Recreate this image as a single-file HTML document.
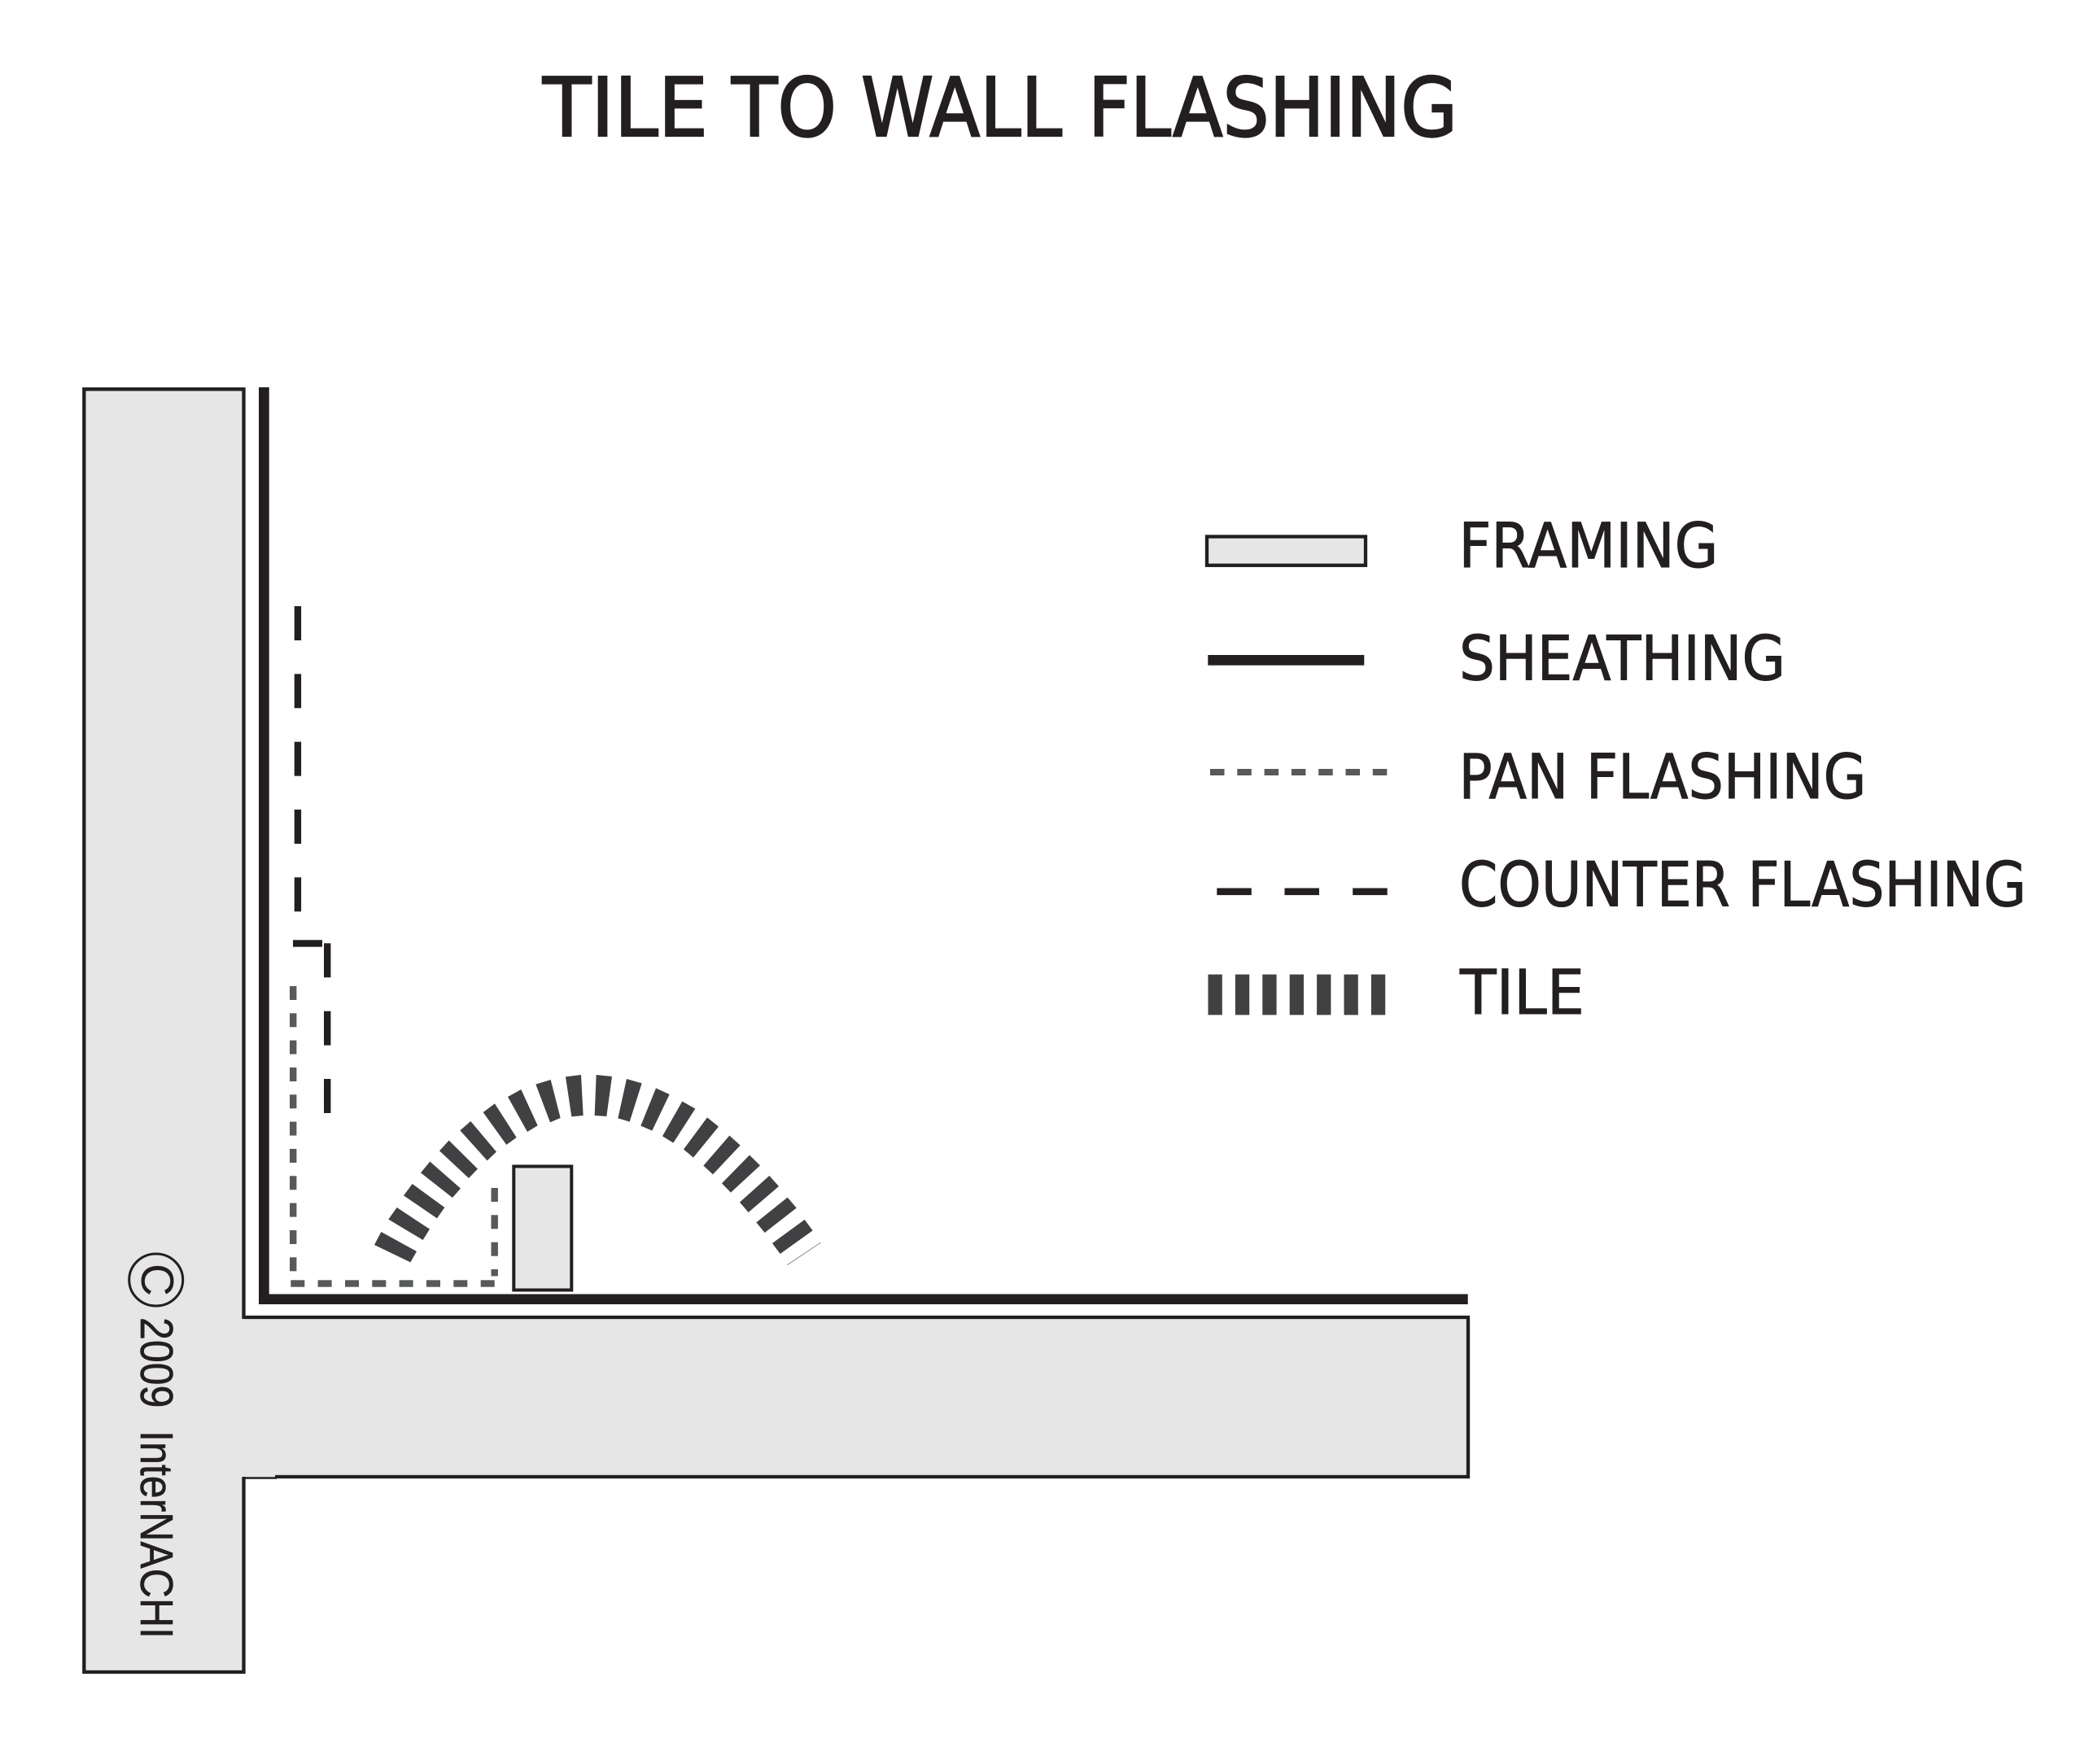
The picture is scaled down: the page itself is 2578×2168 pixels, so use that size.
<!DOCTYPE html>
<html>
<head>
<meta charset="utf-8">
<title>Tile to Wall Flashing</title>
<style>
html,body{margin:0;padding:0;background:#fff;width:2578px;height:2168px;overflow:hidden}
svg{display:block}
text{font-family:"DejaVu Sans",sans-serif;fill:#231f20}
.t{stroke:#231f20;stroke-width:2.2px}
.l{stroke:#231f20;stroke-width:1px}
</style>
</head>
<body>
<svg xmlns="http://www.w3.org/2000/svg" width="2578" height="2168" viewBox="0 0 2578 2168">
<rect width="2578" height="2168" fill="#fff"/>

<text class="t" x="667" y="167" font-size="100" textLength="203" lengthAdjust="spacingAndGlyphs">TILE</text>
<text class="t" x="899" y="167" font-size="100" textLength="129" lengthAdjust="spacingAndGlyphs">TO</text>
<text class="t" x="1058" y="167" font-size="100" textLength="247" lengthAdjust="spacingAndGlyphs">WALL</text>
<text class="t" x="1337" y="167" font-size="100" textLength="454" lengthAdjust="spacingAndGlyphs">FLASHING</text>

<!-- framing -->
<path d="M103.3 478.3H299.5V1619H1804V1815H299.5V2055H103.3Z" fill="#e6e6e6"/>
<path d="M299.5 1621V1619H1804V1815H338M299.5 1815V2055H103.3V478.3H299.5V1621" fill="none" stroke="#231f20" stroke-width="4.3"/>
<path d="M298 1816.5H340" fill="none" stroke="#231f20" stroke-width="2.4"/>

<!-- sheathing -->
<path d="M318 476H330.7V1590.5H1803.7V1603H318Z" fill="#231f20"/>

<!-- pan flashing horizontal -->
<g fill="#58595b">
<rect x="357.3" y="1573.3" width="17" height="8.4"/>
<rect x="390.6" y="1573.3" width="17" height="8.4"/>
<rect x="424" y="1573.3" width="17" height="8.4"/>
<rect x="457.3" y="1573.3" width="17" height="8.4"/>
<rect x="490.6" y="1573.3" width="17" height="8.4"/>
<rect x="524" y="1573.3" width="17" height="8.4"/>
<rect x="557.3" y="1573.3" width="17" height="8.4"/>
<rect x="590.7" y="1573.3" width="17" height="8.4"/>
<!-- left vertical -->
<rect x="356" y="1212" width="8.4" height="17"/>
<rect x="356" y="1245.3" width="8.4" height="17"/>
<rect x="356" y="1278.6" width="8.4" height="17"/>
<rect x="356" y="1312" width="8.4" height="17"/>
<rect x="356" y="1345.3" width="8.4" height="17"/>
<rect x="356" y="1378.6" width="8.4" height="17"/>
<rect x="356" y="1412" width="8.4" height="17"/>
<rect x="356" y="1445.3" width="8.4" height="17"/>
<rect x="356" y="1478.6" width="8.4" height="17"/>
<rect x="356" y="1512" width="8.4" height="17"/>
<rect x="356" y="1545.3" width="8.4" height="17"/>
<!-- right vertical -->
<rect x="603.5" y="1460" width="8.4" height="17"/>
<rect x="603.5" y="1493.3" width="8.4" height="17"/>
<rect x="603.5" y="1526.7" width="8.4" height="17"/>
<rect x="603.5" y="1560" width="8.4" height="8.4"/>
</g>

<!-- counter flashing -->
<g fill="#231f20">
<rect x="361.7" y="745" width="8.4" height="42"/>
<rect x="361.7" y="828.3" width="8.4" height="42"/>
<rect x="361.7" y="911.7" width="8.4" height="42"/>
<rect x="361.7" y="995" width="8.4" height="42"/>
<rect x="361.7" y="1078.3" width="8.4" height="42"/>
<rect x="360" y="1155.3" width="36" height="8.4"/>
<rect x="398" y="1159.3" width="8.4" height="42"/>
<rect x="398" y="1242.7" width="8.4" height="42"/>
<rect x="398" y="1326" width="8.4" height="42"/>
</g>

<!-- center framing block -->
<rect x="631.3" y="1433.5" width="71" height="152" fill="#e6e6e6" stroke="#231f20" stroke-width="4"/>

<!-- tiles -->
<g fill="#414042" transform="translate(450 1310) scale(.33333)">
<polygon points="30,660 55,612 186,684 163,724"/>
<polygon points="82,566 113,522 234,602 209,642"/>
<polygon points="138,478 170,435 289,522 261,562"/>
<polygon points="201,394 235,353 348,452 318,486"/>
<polygon points="270,313 305,275 411,380 378,414"/>
<polygon points="346,238 385,204 480,317 446,349"/>
<polygon points="431,171 474,139 554,264 517,291"/>
<polygon points="522,114 571,87 632,220 594,243"/>
<polygon points="625,68 680,51 716,192 678,208"/>
<polygon points="735,40 792,33 800,183 757,187"/>
</g>
<g fill="#414042" transform="translate(730 1310) scale(.33333)">
<polygon points="8,33 66,39 46,186 2,183"/>
<polygon points="120,48 176,64 131,206 88,193"/>
<polygon points="228,82 278,105 214,239 172,221"/>
<polygon points="325,131 373,158 292,284 252,259"/>
<polygon points="417,190 459,224 366,338 330,308"/>
<polygon points="499,257 539,293 438,400 403,368"/>
<polygon points="573,329 612,367 504,467 471,433"/>
<polygon points="646,405 681,444 569,540 537,503"/>
<polygon points="713,485 746,524 629,615 598,577"/>
<polygon points="776,567 806,607 686,693 657,654"/>
<line x1="712" y1="734" x2="836" y2="651" stroke="#8a8a8a" stroke-width="3"/>
</g>

<!-- copyright -->
<ellipse cx="191.7" cy="1573" rx="33" ry="32" fill="none" stroke="#231f20" stroke-width="3"/>
<text transform="translate(174 1553) rotate(90)" style="font-family:'Liberation Sans',sans-serif" font-size="57" textLength="40" lengthAdjust="spacingAndGlyphs">C</text>
<text transform="translate(173 1619) rotate(90)" style="font-family:'Liberation Sans',sans-serif;white-space:pre;stroke:#231f20;stroke-width:.6px" font-size="57" textLength="395" lengthAdjust="spacingAndGlyphs" xml:space="preserve">2009  InterNACHI</text>

<!-- legend -->
<rect x="1483" y="659.5" width="195" height="35.3" fill="#e6e6e6" stroke="#231f20" stroke-width="4.3"/>
<rect x="1484.3" y="805" width="192" height="12.7" fill="#231f20"/>
<g fill="#58595b">
<rect x="1487" y="945" width="17.5" height="8"/>
<rect x="1520.3" y="945" width="17.5" height="8"/>
<rect x="1553.6" y="945" width="17.5" height="8"/>
<rect x="1586.9" y="945" width="17.5" height="8"/>
<rect x="1620.2" y="945" width="17.5" height="8"/>
<rect x="1653.5" y="945" width="17.5" height="8"/>
<rect x="1686.8" y="945" width="17.5" height="8"/>
</g>
<g fill="#231f20">
<rect x="1495.3" y="1091.5" width="42.5" height="8.6"/>
<rect x="1578.5" y="1091.5" width="42.5" height="8.6"/>
<rect x="1662.2" y="1091.5" width="42.5" height="8.6"/>
</g>
<g fill="#414042">
<rect x="1484.5" y="1197.6" width="17.3" height="49.8"/>
<rect x="1517.9" y="1197.6" width="17.3" height="49.8"/>
<rect x="1551.3" y="1197.6" width="17.3" height="49.8"/>
<rect x="1584.7" y="1197.6" width="17.3" height="49.8"/>
<rect x="1618.1" y="1197.6" width="17.3" height="49.8"/>
<rect x="1651.5" y="1197.6" width="17.3" height="49.8"/>
<rect x="1684.9" y="1197.6" width="17.3" height="49.8"/>
</g>
<text class="l" x="1792.5" y="697" font-size="75.5" textLength="319" lengthAdjust="spacingAndGlyphs">FRAMING</text>
<text class="l" x="1793" y="835.5" font-size="75.5" textLength="401" lengthAdjust="spacingAndGlyphs">SHEATHING</text>
<text class="l" x="1792.5" y="981" font-size="75.5" textLength="501" lengthAdjust="spacingAndGlyphs">PAN FLASHING</text>
<text class="l" x="1793" y="1113.5" font-size="75.5" textLength="697" lengthAdjust="spacingAndGlyphs">COUNTER FLASHING</text>
<text class="l" x="1794" y="1246" font-size="75.5" textLength="153" lengthAdjust="spacingAndGlyphs">TILE</text>
</svg>
</body>
</html>
